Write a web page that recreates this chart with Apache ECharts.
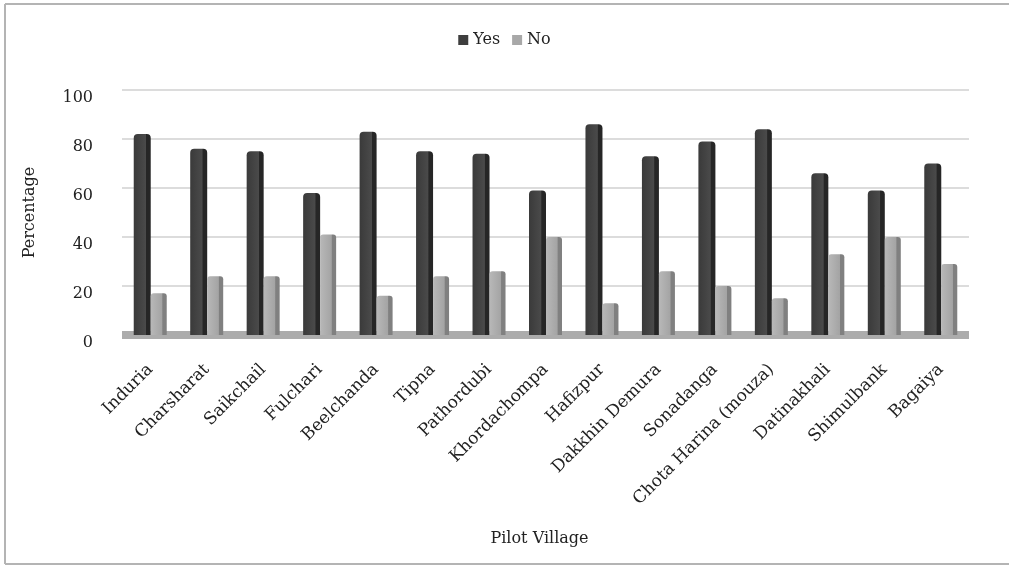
<!DOCTYPE html>
<html>
<head>
<meta charset="utf-8">
<script src="https://cdn.jsdelivr.net/npm/echarts@6/dist/echarts.min.js"></script>
<style>
  html, body { margin: 0; padding: 0; background: #fff; overflow: hidden; }
  #chart { position: absolute; left: 0; top: 0; width: 1009px; height: 565px; }
</style>
</head>
<body>
<div id="chart"></div>
<script>
// Pilot villages and the share of respondents answering Yes / No (%)
const villages = ['Induria', 'Charsharat', 'Saikchail', 'Fulchari', 'Beelchanda', 'Tipna',
  'Pathordubi', 'Khordachompa', 'Hafizpur', 'Dakkhin Demura', 'Sonadanga',
  'Chota Harina (mouza)', 'Datinakhali', 'Shimulbank', 'Bagaiya'];
const yesValues = [82, 76, 75, 58, 83, 75, 74, 59, 86, 73, 79, 84, 66, 59, 70];
const noValues  = [17, 24, 24, 41, 16, 24, 26, 40, 13, 26, 20, 15, 33, 40, 29];
const yTicks = [0, 20, 40, 60, 80, 100];

const FONT = 'DejaVu Serif';
const FRAME = '#b4b4b4';

function barFill(c1, c2, c3) {
  return new echarts.graphic.LinearGradient(0, 0, 1, 0, [
    { offset: 0, color: c1 },
    { offset: 0.7, color: c2 },
    { offset: 0.75, color: c3 },
    { offset: 1, color: c3 }
  ]);
}

const chart = echarts.init(document.getElementById('chart'));
chart.setOption({
  animation: false,
  backgroundColor: 'transparent',
  // open frame around the chart (left, top and bottom edges)
  graphic: [
    { type: 'line', shape: { x1: 5, y1: 4, x2: 1009, y2: 4 }, style: { stroke: FRAME, lineWidth: 2 } },
    { type: 'line', shape: { x1: 5, y1: 4, x2: 5, y2: 564 }, style: { stroke: FRAME, lineWidth: 2 } },
    { type: 'line', shape: { x1: 5, y1: 564, x2: 1009, y2: 564 }, style: { stroke: FRAME, lineWidth: 2 } }
  ],
  legend: {
    top: 27,
    left: 'center',
    itemWidth: 10,
    itemHeight: 10,
    itemGap: 12,
    icon: 'rect',
    textStyle: { fontFamily: FONT, fontSize: 16, color: '#222' },
    data: [
      { name: 'Yes', itemStyle: { color: '#3e3e3e' } },
      { name: 'No', itemStyle: { color: '#a8a8a8' } }
    ]
  },
  grid: { left: 122, right: 40, top: 90, bottom: 230 },
  xAxis: {
    type: 'category',
    data: villages,
    name: 'Pilot Village',
    nameLocation: 'middle',
    nameGap: 196,
    nameTextStyle: { fontFamily: FONT, fontSize: 16, color: '#222', padding: [0, 12, 0, 0] },
    axisLine: { show: true, lineStyle: { color: '#acacac', width: 8, cap: 'butt' } },
    axisTick: { show: false },
    axisLabel: {
      interval: 0,
      rotate: 45,
      margin: 32,
      fontFamily: FONT,
      fontSize: 17,
      color: '#222'
    }
  },
  yAxis: {
    type: 'value',
    min: 0,
    max: 100,
    interval: 20,
    name: 'Percentage',
    nameLocation: 'middle',
    nameGap: 84,
    nameRotate: 90,
    nameTextStyle: { fontFamily: FONT, fontSize: 16, color: '#222' },
    axisLine: { show: false },
    axisTick: { show: false },
    axisLabel: {
      margin: 29,
      verticalAlign: 'top',
      fontFamily: FONT,
      fontSize: 16,
      color: '#222',
      formatter: v => (yTicks.includes(v) ? String(v) : '')
    },
    splitLine: { show: true, lineStyle: { color: '#dcdcdc', width: 2 } }
  },
  series: [
    {
      name: 'Yes',
      type: 'bar',
      data: yesValues,
      barWidth: 17,
      barGap: '0%',
      itemStyle: {
        color: barFill('#3a3a3a', '#4a4a4a', '#262626'),
        borderRadius: [4, 4, 0, 0]
      }
    },
    {
      name: 'No',
      type: 'bar',
      data: noValues,
      barWidth: 16,
      itemStyle: {
        color: barFill('#b8b8b8', '#a4a4a4', '#808080'),
        borderRadius: [3, 3, 0, 0]
      }
    }
  ]
});
</script>
</body>
</html>
